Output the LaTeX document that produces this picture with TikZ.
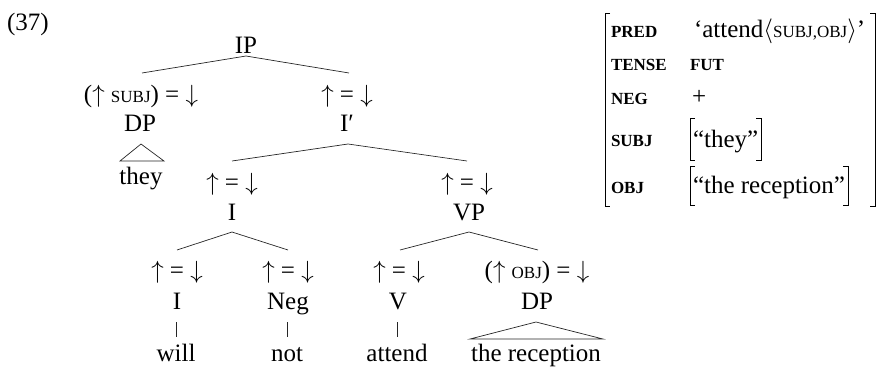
\documentclass[tikz,border=0pt]{standalone}
\usepackage{fontspec}
\setmainfont{Liberation Serif}
\usetikzlibrary{calc}
\newcommand{\smc}[1]{{\fontsize{17}{17}\selectfont #1}}
\newcommand{\avmlbl}[1]{{\fontsize{17}{17}\selectfont\bfseries #1}}
\newcommand{\upar}{$\uparrow$}
\newcommand{\dnar}{$\downarrow$}
\newcommand{\ueqd}{\upar{} = \dnar}
\begin{document}
\begin{tikzpicture}[x=1pt,y=-1pt,
  every node/.style={inner sep=0pt, outer sep=0pt, font=\fontsize{25}{30}\selectfont},
  txt/.style={anchor=base},
  lft/.style={anchor=base west},
  edge/.style={line width=0.7pt, draw=black!85},
  brk/.style={line width=0.9pt, draw=black}]
\useasboundingbox (0,0) rectangle (880,367);

\node[lft] (ex) at (7,30) {(37)};

% tree nodes
\node[txt] (IP) at (246,53) {IP};
\node[txt] (aDP) at (141,102) {(\upar{} \smc{SUBJ}) = \dnar};
\node[txt] (DP) at (140,131) {DP};
\node[txt] (they) at (141,184) {they};
\node[txt] (aIb) at (347,102) {\ueqd};
\node[txt] (Ib) at (347,131) {I′};
\node[txt] (aI) at (232,190) {\ueqd};
\node[txt] (I) at (232,220) {I};
\node[txt] (aVP) at (467,190) {\ueqd};
\node[txt] (VP) at (469,220) {VP};
\node[txt] (aI2) at (177,278) {\ueqd};
\node[txt] (I2) at (177,309) {I};
\node[txt] (aNeg) at (288,278) {\ueqd};
\node[txt] (Neg) at (288,309) {Neg};
\node[txt] (aV) at (399,278) {\ueqd};
\node[txt] (V) at (398,309) {V};
\node[txt] (aDP2) at (537,278) {(\upar{} \smc{OBJ}) = \dnar};
\node[txt] (DP2) at (537,309) {DP};
\node[txt] (will) at (176,361) {will};
\node[txt] (not) at (287,361) {not};
\node[txt] (attend) at (397,361) {attend};
\node[txt] (rec) at (536,361) {the reception};

% tree edges
\draw[edge] ($(aDP.base)+(1,-29)$) -- ($(IP.base)+(0,3)$) -- ($(aIb.base)+(2,-29)$);
\draw[edge] ($(they.base)+(-21,-23)$) -- ($(DP.base)+(1,13)$) -- ($(they.base)+(23,-23)$) -- cycle;
\draw[edge] ($(aI.base)+(0,-29)$) -- ($(Ib.base)+(1,13)$) -- ($(aVP.base)+(0,-29)$);
\draw[edge] ($(aI2.base)+(0,-28)$) -- ($(I.base)+(0,12)$) -- ($(aNeg.base)+(0,-28)$);
\draw[edge] ($(aV.base)+(1,-28)$) -- ($(VP.base)+(0,12)$) -- ($(aDP2.base)+(1,-28)$);
\draw[edge] ($(I2.base)+(-1,13)$) -- ($(will.base)+(0,-24)$);
\draw[edge] ($(Neg.base)+(-1,13)$) -- ($(not.base)+(0,-24)$);
\draw[edge] ($(V.base)+(-1,13)$) -- ($(attend.base)+(0,-24)$);
\draw[edge] ($(rec.base)+(-66,-22)$) -- ($(DP2.base)+(-1,13)$) -- ($(rec.base)+(67,-22)$) -- cycle;

% AVM
\draw[brk] (610,13) -- (605,13) -- (605,206) -- (610,206);
\draw[brk] (870,13) -- (875,13) -- (875,206) -- (870,206);
\node[lft] (pred) at (611,37) {\avmlbl{PRED}};
\node[lft] (tense) at (611,70) {\avmlbl{TENSE}};
\node[lft] (neg) at (611,104) {\avmlbl{NEG}};
\node[lft] (subj) at (611,146) {\avmlbl{SUBJ}};
\node[lft] (obj) at (611,193) {\avmlbl{OBJ}};
\node[lft] (predv) at (694,37) {‘attend$\langle$\smc{SUBJ,OBJ}$\rangle$’};
\node[lft] (fut) at (690,70) {\avmlbl{FUT}};
\node[lft] (negv) at (692,104) {+};
\node[lft] (theyv) at (693,147) {“they”};
\node[lft] (recv) at (693,193) {“the reception”};
\draw[brk] ($(theyv.base west)+(2,-29)$) -- ($(theyv.base west)+(-3,-29)$) -- ($(theyv.base west)+(-3,13)$) -- ($(theyv.base west)+(2,13)$);
\draw[brk] ($(theyv.base east)+(-2,-29)$) -- ($(theyv.base east)+(3,-29)$) -- ($(theyv.base east)+(3,13)$) -- ($(theyv.base east)+(-2,13)$);
\draw[brk] ($(recv.base west)+(2,-27)$) -- ($(recv.base west)+(-3,-27)$) -- ($(recv.base west)+(-3,12)$) -- ($(recv.base west)+(2,12)$);
\draw[brk] ($(recv.base east)+(-2,-27)$) -- ($(recv.base east)+(3,-27)$) -- ($(recv.base east)+(3,12)$) -- ($(recv.base east)+(-2,12)$);
\end{tikzpicture}
\end{document}
